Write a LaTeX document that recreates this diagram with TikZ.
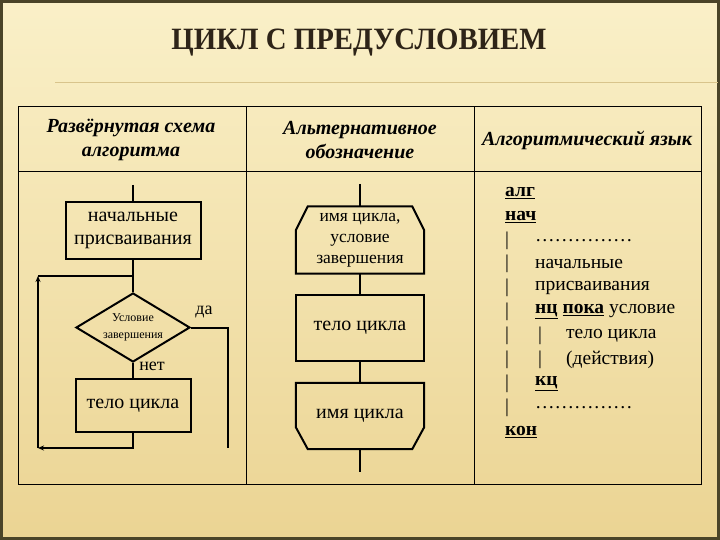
\documentclass[tikz,border=0pt]{standalone}
\usepackage{fontspec}
\setmainfont{Liberation Serif}
\usetikzlibrary{shapes.geometric,arrows.meta,calc}
\definecolor{bgtop}{HTML}{FAF0C8}
\definecolor{bgbot}{HTML}{EBD493}
\definecolor{frame}{HTML}{4A4428}
\definecolor{titlec}{HTML}{2E2418}
\definecolor{deco}{HTML}{D9C48C}
\begin{document}
\begin{tikzpicture}[x=1pt,y=-1pt,
  flow/.style={draw=black,line width=2pt},
  grid/.style={draw=black,line width=1pt},
  boxn/.style={draw=black,line width=2pt,inner sep=0pt,align=center,font=\fontsize{20}{23}\selectfont},
  plain/.style={inner sep=0pt,align=center},
  head/.style={inner sep=0pt,align=center,font=\fontsize{20}{24}\selectfont\bfseries\itshape},
  code/.style={inner sep=0pt,anchor=west,font=\fontsize{19.5}{22}\selectfont},
  tip/.style={-{Stealth[length=6pt,width=5pt]}}
]
\useasboundingbox (0,0) rectangle (720,540);
% background
\fill[top color=bgtop,bottom color=bgbot] (0,0) rectangle (720,540);
\draw[frame,line width=3pt] (1.5,1.5) rectangle (718.5,538.5);
% title
\node[plain,text=titlec,font=\fontsize{31}{34}\selectfont\bfseries,xscale=0.93] (title) at (359,43) {ЦИКЛ С ПРЕДУСЛОВИЕМ};
\draw[deco,line width=1pt] (55,83) -- (718,83);
% table
\draw[grid] (18,107) rectangle (701,484);
\draw[grid] (18,172) -- (701,172);
\draw[grid] (246,107) -- (246,484);
\draw[grid] (474,107) -- (474,484);
\node[head] (h1) at (131,140) {Развёрнутая схема\\алгоритма};
\node[head] (h2) at (360,140) {Альтернативное\\обозначение};
\node[head] (h3) at (587,140) {Алгоритмический язык};
% ---- left flowchart
\coordinate (s1) at (133,185);
\node[boxn,minimum width=135pt,minimum height=57pt] (init) at (133,230.5) {начальные\\присваивания};
\node[diamond,draw=black,line width=2pt,inner sep=0pt,aspect=1.65,minimum width=114pt,minimum height=69pt,align=center,font=\fontsize{12}{17}\selectfont] (cond) at (133,327.5) {Условие\\завершения};
\node[boxn,minimum width=115pt,minimum height=53pt] (body) at (133,405.5) {тело цикла};
\coordinate (j1) at (133,276);
\coordinate (lt) at (38,276);
\coordinate (lb) at (38,448);
\coordinate (bb) at (133,448);
\coordinate (dr) at (228,327.5);
\coordinate (de) at (228,448);
\draw[flow] (s1) -- (init.north);
\draw[flow] (init.south) -- (cond.north);
\draw[flow] (cond.south) -- (body.north);
\draw[flow,tip] (body.south) -- (bb) -- (lb);
\draw[flow,tip] (lb) -- (lt);
\draw[flow] (lt) -- (j1);
\draw[flow] (cond.east) -- (dr) -- (de);
\node[plain,font=\fontsize{18}{20}\selectfont] (yes) at (204,312) {да};
\node[plain,font=\fontsize{18}{20}\selectfont] (no) at (152,366) {нет};
% ---- middle column
\coordinate (m0) at (360,184);
\node[plain,minimum width=128pt,minimum height=67pt,font=\fontsize{17.5}{21}\selectfont] (hx1) at (360,240) {имя цикла,\\условие\\завершения};
\draw[flow] ($(hx1.north west)+(12,0)$) -- ($(hx1.north east)+(-12,0)$) -- ($(hx1.north east)+(0,24)$) -- (hx1.south east) -- (hx1.south west) -- ($(hx1.north west)+(0,24)$) -- cycle;
\node[boxn,minimum width=128pt,minimum height=66pt] (mb) at (360,328) {тело цикла};
\node[plain,minimum width=128pt,minimum height=66pt,font=\fontsize{20}{23}\selectfont] (hx2) at (360,416) {имя цикла};
\draw[flow] (hx2.north west) -- (hx2.north east) -- ($(hx2.south east)+(0,-22)$) -- ($(hx2.south east)+(-12,0)$) -- ($(hx2.south west)+(12,0)$) -- ($(hx2.south west)+(0,-22)$) -- cycle;
\coordinate (m1) at (360,472);
\draw[flow] (m0) -- (hx1.north);
\draw[flow] (hx1.south) -- (mb.north);
\draw[flow] (mb.south) -- (hx2.north);
\draw[flow] (hx2.south) -- (m1);
% ---- right column
\node[code] (c1) at (505,193) {\textbf{\underline{алг}}};
\node[code] (c2) at (505,217) {\textbf{\underline{нач}}};
\node[code] (b3) at (505,241) {|};
\node[code] (c3) at (535,241) {……………};
\node[code] (b4) at (505,264) {|};
\node[code] (c4) at (535,264) {начальные};
\node[code] (b5) at (505,288) {|};
\node[code] (c5) at (535,288) {присваивания};
\node[code] (b6) at (505,312) {|};
\node[code] (c6) at (535,312) {\textbf{\underline{нц}} \textbf{\underline{пока}} условие};
\node[code] (b7) at (505,336) {|};
\node[code] (d7) at (538,336) {|};
\node[code] (c7) at (566,336) {тело цикла};
\node[code] (b8) at (505,360) {|};
\node[code] (d8) at (538,360) {|};
\node[code] (c8) at (566,360) {(действия)};
\node[code] (b9) at (505,384) {|};
\node[code] (c9) at (535,384) {\textbf{\underline{кц}}};
\node[code] (b10) at (505,408) {|};
\node[code] (c10) at (535,408) {……………};
\node[code] (c11) at (505,432) {\textbf{\underline{кон}}};
\end{tikzpicture}
\end{document}
